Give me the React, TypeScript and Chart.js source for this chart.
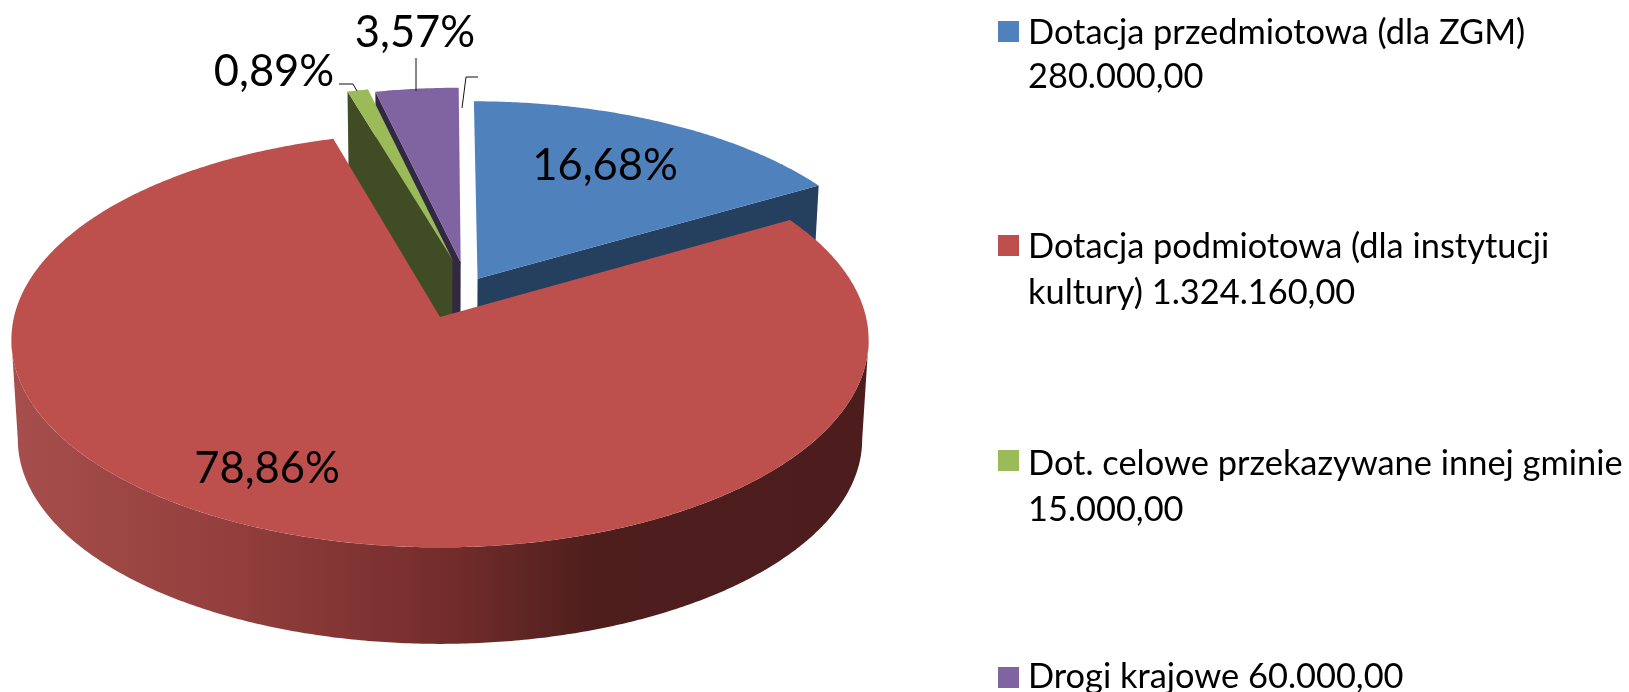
import React, { useEffect, useRef } from "react";
import { Chart, registerables } from "chart.js";

Chart.register(...registerables);

const categories = [
  ["Dotacja przedmiotowa (dla ZGM)", "280.000,00"],
  ["Dotacja podmiotowa (dla instytucji", "kultury) 1.324.160,00"],
  ["Dot. celowe przekazywane innej gminie", "15.000,00"],
  ["Drogi krajowe 60.000,00"],
];
const amounts = [280000, 1324160, 15000, 60000];
const percentLabels = ["16,68%", "78,86%", "0,89%", "3,57%"];
const faceColors = ["#4F81BD", "#BD4F4C", "#9BBB59", "#8064A2"];
const wallColors = ["#253F5E", "#4C1D1C", "#404D24", "#332842"];
// explosion of each slice across the pie's plane, in radii
const shiftU = [0.09, 0, 0.03, 0.05];
const shiftV = [-0.19, 0, -0.29, -0.275];
// where each label sits: [x, y] baseline centre
const labelAnchors = [
  [605, 180],
  [267, 483],
  [274, 86],
  [415, 47],
];
const leaderLines = [
  [[339, 84], [353, 84], [357, 91]],
  [[416, 58], [416, 91]],
  [[478, 77], [466, 77], [462, 108]],
];
const legendMarkerY = [21, 235, 450, 667];
const legendBaselineY = [[44, 88], [258, 304], [475, 521], [688]];

const CX = 440, CY = 317, RX = 426, RY = 205, K = 0.11;
const BOTTOM_CY = 417, BOTTOM_SCALE = 0.985;

function project(u: number, v: number, bottom: boolean) {
  const w = 1 - K * v;
  if (!bottom) return [CX + (RX * u) / w, CY + (RY * v) / w];
  return [CX + (RX * BOTTOM_SCALE * u) / w, BOTTOM_CY + (RY * BOTTOM_SCALE * v) / w];
}

function arcPoints(a0: number, a1: number, du: number, dv: number, bottom: boolean) {
  const pts: number[][] = [];
  const n = Math.max(2, Math.ceil(Math.abs(a1 - a0) / (Math.PI / 360)));
  for (let i = 0; i <= n; i++) {
    const a = a0 + ((a1 - a0) * i) / n;
    pts.push(project(Math.cos(a) + du, Math.sin(a) + dv, bottom));
  }
  return pts;
}

function fillPoly(ctx: CanvasRenderingContext2D, pts: number[][], fill: any) {
  ctx.beginPath();
  pts.forEach((p, i) => (i ? ctx.lineTo(p[0], p[1]) : ctx.moveTo(p[0], p[1])));
  ctx.closePath();
  ctx.fillStyle = fill;
  ctx.fill();
}

const pie3d = {
  id: "pie3d",
  beforeDatasetDraw(chart: any) {
    const ctx: CanvasRenderingContext2D = chart.ctx;
    const arcs = chart.getDatasetMeta(0).data;
    ctx.save();
    // far slices first, the big near slice last
    [0, 3, 2, 1].forEach((i) => {
      const { startAngle, endAngle } = arcs[i].getProps(["startAngle", "endAngle"], true);
      const du = shiftU[i], dv = shiftV[i];
      const tipTop = project(du, dv, false);
      const tipBottom = project(du, dv, true);
      const face = [tipTop, ...arcPoints(startAngle, endAngle, du, dv, false)];
      if (i === 1) {
        // outer rim, from the right-hand silhouette point to the left-hand one
        const g = ctx.createLinearGradient(15, 0, 870, 0);
        g.addColorStop(0, "#A64E4B");
        g.addColorStop(0.25, "#933F3D");
        g.addColorStop(0.5, "#742D2C");
        g.addColorStop(0.68, "#4D1E1C");
        g.addColorStop(1, "#4C1D1C");
        const side = Math.asin(K);
        const top = arcPoints(side, Math.PI - side, du, dv, false);
        const bot = arcPoints(side, Math.PI - side, du, dv, true);
        fillPoly(ctx, [...top, ...bot.reverse()], g);
      } else {
        // the cut face that looks at the viewer
        const edgeAngle = i === 0 ? endAngle : startAngle;
        const outerTop = project(Math.cos(edgeAngle) + du, Math.sin(edgeAngle) + dv, false);
        const outerBottom = project(Math.cos(edgeAngle) + du, Math.sin(edgeAngle) + dv, true);
        fillPoly(ctx, [tipTop, outerTop, outerBottom, tipBottom], wallColors[i]);
      }
      fillPoly(ctx, face, faceColors[i]);
    });
    ctx.restore();
    return false;
  },
  afterDraw(chart: any) {
    const ctx: CanvasRenderingContext2D = chart.ctx;
    ctx.save();
    ctx.strokeStyle = "#111";
    ctx.lineWidth = 1;
    leaderLines.forEach((line) => {
      ctx.beginPath();
      line.forEach((p, i) => (i ? ctx.lineTo(p[0], p[1]) : ctx.moveTo(p[0], p[1])));
      ctx.stroke();
    });
    ctx.fillStyle = "#000";
    ctx.textBaseline = "alphabetic";
    ctx.textAlign = "center";
    ctx.font = "43.5px Lato";
    percentLabels.forEach((t, i) => ctx.fillText(t, labelAnchors[i][0], labelAnchors[i][1]));
    ctx.textAlign = "left";
    ctx.font = "34.4px Lato";
    categories.forEach((lines, i) => {
      ctx.fillStyle = faceColors[i];
      ctx.fillRect(998, legendMarkerY[i], 21, 21);
      ctx.fillStyle = "#000";
      lines.forEach((t, j) => ctx.fillText(t, 1028, legendBaselineY[i][j]));
    });
    ctx.restore();
  },
};

export default function App() {
  const ref = useRef<HTMLCanvasElement>(null);
  useEffect(() => {
    document.body.style.margin = "0";
    document.body.style.overflow = "hidden";
    const chart = new Chart(ref.current!, {
      type: "pie",
      data: {
        labels: categories.map((c) => c.join(" ")),
        datasets: [{ data: amounts, backgroundColor: faceColors, borderWidth: 0 }],
      },
      options: {
        responsive: false,
        animation: false,
        plugins: { legend: { display: false }, tooltip: { enabled: false } },
      },
      plugins: [pie3d],
    });
    return () => chart.destroy();
  }, []);
  return <canvas ref={ref} width={1629} height={692} style={{ display: "block" }} />;
}
